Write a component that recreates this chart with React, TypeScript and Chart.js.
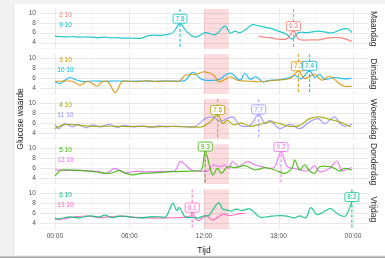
import React, { useEffect, useRef } from 'react';
import { Chart, registerables } from 'chart.js';

Chart.register(...registerables);

const FONT = '"Liberation Sans", Arial, Helvetica, sans-serif';
const W = 385;
const H = 258;

const dayNames = ['Maandag', 'Dinsdag', 'Woensdag', 'Donderdag', 'Vrijdag'];
const yTickValues = [4, 6, 8, 10];
const yMinorValues = [3, 5, 7, 9];
const xTickHours = [0, 6, 12, 18, 24];
const xTickLabels = ['00:00', '06:00', '12:00', '18:00', '00:00'];
const xMinorHours = [3, 9, 15, 21];
const shadeHours = [12, 14];
const xRange = [-1.2, 25.2];
const vRange = [2.8, 10.75];
const panelStride = 9.054;

// Maandag
const mon_0210_t = [16.4, 16.9, 17.3, 17.7, 18.1, 18.7, 19.2, 19.6, 20.1, 20.7, 21.3, 21.8, 22.3, 22.9, 23.3, 23.9];
const mon_0210_v = [5.3, 5.05, 5.0, 4.8, 4.65, 4.8, 6.3, 4.7, 4.5, 4.55, 4.55, 4.85, 5.0, 5.0, 4.8, 4.25];
const mon_0910_t = [0, 0.5, 1, 1.5, 2, 2.5, 3, 3.5, 4, 4.5, 5, 5.5, 6, 6.5, 7, 7.5, 8, 8.5, 9, 9.5, 10.07, 10.6, 11.3, 12.1, 12.9, 13.7, 14.1, 14.5, 14.9, 15.5, 15.9, 16.5, 17.3, 18.1, 18.7, 19.1, 19.6, 20.3, 21.2, 21.7, 22.3, 22.9, 23.5, 23.9];
const mon_0910_v = [5.3, 5.2, 5.15, 5.2, 5.1, 5.15, 5.1, 5.0, 5.1, 4.95, 5.0, 4.9, 4.9, 4.85, 4.9, 5.4, 5.5, 5.45, 5.6, 6.0, 7.8, 6.2, 5.1, 6.0, 5.6, 7.3, 5.9, 6.3, 6.0, 6.9, 7.6, 7.3, 6.9, 6.2, 5.6, 4.7, 6.0, 6.0, 6.3, 6.15, 5.95, 6.5, 6.8, 6.05];

// Dinsdag
const tue_0310_t = [0, 0.5, 1, 1.5, 2.0, 2.65, 3.4, 3.8, 4.3, 4.85, 5.4, 6, 6.5, 7, 7.5, 8, 8.5, 9, 9.5, 10, 10.5, 11.3, 12.1, 12.9, 13.1, 13.7, 14.1, 14.7, 15.7, 16.5, 17.7, 18.9, 19.6, 20.1, 20.9, 21.5, 22.1, 22.9, 23.3, 23.9];
const tue_0310_v = [5.3, 5.3, 5.35, 5.25, 4.5, 5.3, 4.3, 5.2, 5.1, 3.0, 5.2, 5.3, 5.2, 5.3, 5.4, 5.25, 5.3, 5.35, 5.3, 5.3, 6.5, 6.7, 7.2, 6.3, 5.2, 5.65, 6.2, 5.5, 5.3, 5.2, 5.5, 5.85, 7.3, 5.85, 6.7, 5.5, 6.3, 4.85, 4.3, 4.3];
const tue_1010_t = [0, 0.4, 0.8, 1.2, 1.8, 2.3, 3, 4, 5, 6, 7, 8, 9, 10, 10.5, 11.1, 11.7, 12.1, 12.9, 13.3, 13.7, 14.2, 14.9, 15.3, 15.7, 16.2, 16.7, 17.3, 18.1, 18.9, 19.3, 19.8, 20.5, 20.9, 21.3, 21.7, 22.5, 23.2, 23.9];
const tue_1010_v = [5.2, 4.85, 5.5, 6.05, 5.5, 5.25, 5.35, 5.3, 5.35, 5.3, 5.35, 5.3, 5.35, 5.35, 5.5, 7.1, 5.85, 5.5, 5.5, 5.7, 6.5, 6.9, 5.5, 6.9, 5.7, 6.2, 5.2, 5.5, 5.6, 6.05, 6.5, 5.8, 7.4, 6.05, 6.7, 5.7, 6.05, 5.8, 5.85];

// Woensdag
const wed_0410_t = [0, 0.5, 1.2, 2, 3, 4, 5, 6, 7, 8, 9, 10, 11, 11.8, 12.5, 13.1, 13.5, 13.9, 14.4, 15, 15.7, 16.5, 17.3, 18.1, 18.9, 19.7, 20.5, 21.3, 22.1, 22.9, 23.8];
const wed_0410_v = [4.85, 5.5, 5.7, 5.5, 5.3, 5.35, 5.3, 5.25, 5.3, 5.2, 5.3, 5.25, 5.2, 5.2, 6.2, 7.6, 5.9, 6.5, 5.6, 6.0, 5.3, 5.7, 6.2, 5.85, 5.3, 5.5, 6.85, 7.2, 6.7, 6.2, 5.2];
const wed_1110_t = [0, 0.3, 0.8, 1.4, 1.9, 2.5, 3.0, 3.6, 4.4, 5, 5.6, 6.3, 7, 7.7, 8.4, 9, 9.8, 10.5, 11.3, 12.1, 12.7, 13.3, 14.3, 14.9, 15.7, 16.4, 16.9, 17.3, 18.1, 18.9, 19.7, 20.5, 21.2, 21.7, 22.5, 22.9, 23.3, 23.9];
const wed_1110_v = [5.7, 4.85, 5.85, 5.2, 5.7, 5.0, 5.6, 5.2, 5.7, 5.1, 5.5, 5.2, 5.4, 5.1, 5.4, 5.2, 5.35, 5.2, 5.3, 6.85, 7.2, 6.3, 7.2, 5.5, 5.5, 7.7, 5.85, 6.5, 4.85, 5.7, 4.85, 6.2, 6.85, 5.85, 7.2, 6.0, 5.3, 5.7];

// Donderdag
const thu_0510_t = [0, 0.4, 0.8, 2, 3, 3.6, 4.4, 5.2, 5.6, 6.3, 6.9, 8, 9.3, 10.3, 11.3, 11.8, 12.1, 12.5, 12.7, 13.1, 13.4, 13.9, 14.5, 15.3, 16.1, 16.9, 17.7, 18.5, 19.1, 19.3, 19.7, 20.1, 20.5, 20.9, 21.3, 22.1, 22.6, 22.9, 23.3, 23.9];
const thu_0510_v = [4.4, 5.45, 5.6, 5.5, 5.3, 5.1, 4.9, 5.5, 5.0, 4.6, 4.9, 5.0, 5.25, 5.3, 5.4, 5.6, 9.3, 5.9, 4.6, 5.9, 4.9, 6.25, 6.05, 6.45, 5.6, 6.05, 5.6, 4.9, 6.05, 7.6, 5.6, 6.6, 5.4, 4.9, 6.25, 6.25, 5.8, 5.4, 5.9, 5.6];
const thu_1210_t = [0, 1, 2, 2.8, 3.5, 4, 4.4, 4.8, 5.6, 6.5, 7.5, 8.5, 9.3, 9.7, 10.1, 10.5, 11, 12.1, 12.4, 12.7, 13.3, 13.7, 14, 14.3, 14.8, 15.5, 16.1, 16.7, 17.3, 17.7, 18.2, 18.7, 19.3, 20.1, 20.5, 20.9, 21.3, 22.1, 22.7, 23.1, 23.5, 23.9];
const thu_1210_v = [5.6, 5.5, 5.5, 5.4, 5.3, 4.9, 5.3, 5.9, 5.1, 5.3, 5.25, 5.3, 5.3, 5.5, 7.3, 6.6, 5.6, 5.3, 5.6, 6.6, 6.25, 6.6, 5.9, 7.3, 6.25, 7.3, 6.6, 6.25, 5.9, 6.25, 9.2, 6.25, 5.9, 5.4, 5.6, 6.45, 5.25, 5.9, 7.4, 5.4, 5.8, 6.05];

// Vrijdag
const fri_0610_t = [0, 0.4, 1.2, 2, 2.8, 3.6, 4, 4.6, 5.2, 6, 6.9, 7.6, 8.5, 8.9, 9.2, 9.5, 9.8, 10.0, 10.5, 11.1, 11.5, 12.0, 12.4, 12.8, 13.2, 13.5, 13.9, 14.2, 14.6, 15.0, 15.7, 16.5, 17.2, 17.7, 18.5, 19.3, 19.7, 20.2, 20.6, 21.1, 21.9, 22.2, 22.9, 23.4, 23.9];
const fri_0610_v = [4.8, 4.9, 5.25, 5.05, 5.45, 5.25, 5.6, 5.1, 5.4, 5.25, 5.05, 5.25, 5.25, 5.2, 6.5, 8.0, 6.5, 7.1, 5.2, 5.15, 5.0, 5.45, 5.5, 7.0, 8.1, 6.8, 6.6, 6.4, 6.8, 6.5, 6.8, 5.2, 5.3, 5.45, 5.45, 5.05, 5.45, 5.05, 7.1, 5.7, 6.6, 6.9, 5.6, 5.45, 8.2];
const fri_1310_t = [0, 0.3, 0.8, 1.6, 2.8, 3.6, 4.4, 5.2, 6, 7, 8, 9, 10, 10.5, 10.9, 11.05, 11.5, 12.2, 12.7, 13.5, 14.1, 14.9, 15.3];
const fri_1310_v = [5.05, 4.7, 4.9, 5.25, 5.4, 5.1, 5.25, 5.4, 5.25, 5.1, 5.0, 5.05, 5.1, 5.2, 5.4, 6.1, 4.5, 5.5, 4.6, 5.75, 5.5, 5.9, 5.95];

type Series = { day: number; row: number; name: string; color: string; t: number[]; v: number[] };

const seriesList: Series[] = [
  { day: 0, row: 0, name: '2 10', color: '#F8766D', t: mon_0210_t, v: mon_0210_v },
  { day: 0, row: 1, name: '9 10', color: '#00BFC4', t: mon_0910_t, v: mon_0910_v },
  { day: 1, row: 0, name: '3 10', color: '#D89000', t: tue_0310_t, v: tue_0310_v },
  { day: 1, row: 1, name: '10 10', color: '#00B0F6', t: tue_1010_t, v: tue_1010_v },
  { day: 2, row: 0, name: '4 10', color: '#A3A500', t: wed_0410_t, v: wed_0410_v },
  { day: 2, row: 1, name: '11 10', color: '#9590FF', t: wed_1110_t, v: wed_1110_v },
  { day: 3, row: 0, name: '5 10', color: '#39B600', t: thu_0510_t, v: thu_0510_v },
  { day: 3, row: 1, name: '12 10', color: '#E76BF3', t: thu_1210_t, v: thu_1210_v },
  { day: 4, row: 0, name: '6 10', color: '#00BF7D', t: fri_0610_t, v: fri_0610_v },
  { day: 4, row: 1, name: '13 10', color: '#FF62BC', t: fri_1310_t, v: fri_1310_v },
];

const nameLabelHour = 0.85;
const nameLabelValues = [9.5, 7.5];

const toY = (day: number, v: number) => (dayNames.length - 1 - day) * panelStride + (v - vRange[0]);
const totalY = toY(0, vRange[1]);

const yTickPositions = dayNames
  .flatMap((_, d) => yTickValues.map((v) => ({ pos: toY(d, v), label: String(v) })))
  .sort((a, b) => a.pos - b.pos);

function rgba(hex: string, a: number) {
  const n = parseInt(hex.slice(1), 16);
  return `rgba(${(n >> 16) & 255},${(n >> 8) & 255},${n & 255},${a})`;
}

function roundRect(ctx: CanvasRenderingContext2D, x: number, y: number, w: number, h: number, r: number) {
  ctx.beginPath();
  ctx.moveTo(x + r, y);
  ctx.lineTo(x + w - r, y);
  ctx.quadraticCurveTo(x + w, y, x + w, y + r);
  ctx.lineTo(x + w, y + h - r);
  ctx.quadraticCurveTo(x + w, y + h, x + w - r, y + h);
  ctx.lineTo(x + r, y + h);
  ctx.quadraticCurveTo(x, y + h, x, y + h - r);
  ctx.lineTo(x, y + r);
  ctx.quadraticCurveTo(x, y, x + r, y);
  ctx.closePath();
}

const facetPlugin = {
  id: 'facets',
  beforeDraw(chart: any) {
    const ctx: CanvasRenderingContext2D = chart.ctx;
    ctx.save();
    ctx.fillStyle = '#f1f1f1';
    ctx.fillRect(0, 0, W, H);
    ctx.fillStyle = '#e6e6e6';
    ctx.fillRect(13, 4, 1, 252);
    ctx.fillStyle = '#ffffff';
    ctx.fillRect(14, 4, W - 14, 251);
    ctx.fillStyle = '#9c9c9c';
    ctx.fillRect(0, 256.5, W, 1.5);
    ctx.restore();
  },
  beforeDatasetsDraw(chart: any) {
    const ctx: CanvasRenderingContext2D = chart.ctx;
    const { x, y } = chart.scales;
    const a = chart.chartArea;
    ctx.save();
    dayNames.forEach((_, d) => {
      const top = y.getPixelForValue(toY(d, vRange[1]));
      const bot = y.getPixelForValue(toY(d, vRange[0]));
      const hline = (v: number) => {
        const p = Math.round(y.getPixelForValue(toY(d, v))) + 0.5;
        ctx.beginPath();
        ctx.moveTo(a.left, p);
        ctx.lineTo(a.right, p);
        ctx.stroke();
      };
      const vline = (h: number) => {
        const p = Math.round(x.getPixelForValue(h)) + 0.5;
        ctx.beginPath();
        ctx.moveTo(p, top);
        ctx.lineTo(p, bot);
        ctx.stroke();
      };
      ctx.lineWidth = 0.6;
      ctx.strokeStyle = '#f0f0f0';
      yMinorValues.forEach(hline);
      xMinorHours.forEach(vline);
      ctx.lineWidth = 1;
      ctx.strokeStyle = '#e8e8e8';
      yTickValues.forEach(hline);
      xTickHours.forEach(vline);
      const xs = x.getPixelForValue(shadeHours[0]);
      const xe = x.getPixelForValue(shadeHours[1]);
      ctx.fillStyle = 'rgba(240,80,90,0.2)';
      ctx.fillRect(xs, top, xe - xs, bot - top);
    });
    ctx.restore();
  },
  afterDatasetsDraw(chart: any) {
    const ctx: CanvasRenderingContext2D = chart.ctx;
    const { x, y } = chart.scales;
    ctx.save();
    // dashed peak lines
    seriesList.forEach((s) => {
      let mi = 0;
      s.v.forEach((v, i) => { if (v > s.v[mi]) mi = i; });
      const px = x.getPixelForValue(s.t[mi]);
      const top = y.getPixelForValue(toY(s.day, vRange[1]));
      const bot = y.getPixelForValue(toY(s.day, vRange[0]));
      ctx.setLineDash([3, 2]);
      ctx.lineWidth = 1.1;
      ctx.strokeStyle = rgba(s.color, 0.85);
      ctx.beginPath();
      ctx.moveTo(px, top);
      ctx.lineTo(px, bot);
      ctx.stroke();
    });
    ctx.setLineDash([]);
    // peak boxes
    ctx.font = `6.5px ${FONT}`;
    ctx.textAlign = 'center';
    ctx.textBaseline = 'middle';
    seriesList.forEach((s) => {
      let mi = 0;
      s.v.forEach((v, i) => { if (v > s.v[mi]) mi = i; });
      const txt = s.v[mi].toFixed(1);
      const px = x.getPixelForValue(s.t[mi]);
      const py = y.getPixelForValue(toY(s.day, s.v[mi] + 1.0));
      const tw = ctx.measureText(txt).width;
      const bw = tw + 5;
      const bh = 9;
      roundRect(ctx, px - bw / 2, py - bh / 2, bw, bh, 1.6);
      ctx.fillStyle = '#ffffff';
      ctx.fill();
      ctx.lineWidth = 0.8;
      ctx.strokeStyle = s.color;
      ctx.stroke();
      ctx.fillStyle = s.color;
      ctx.fillText(txt, px, py + 0.3);
    });
    // date labels
    ctx.font = `6.5px ${FONT}`;
    seriesList.forEach((s) => {
      ctx.fillStyle = s.color;
      ctx.fillText(s.name, x.getPixelForValue(nameLabelHour), y.getPixelForValue(toY(s.day, nameLabelValues[s.row])));
    });
    // strip labels
    ctx.font = `8.5px ${FONT}`;
    ctx.fillStyle = '#333333';
    dayNames.forEach((name, d) => {
      const cy = y.getPixelForValue(toY(d, (vRange[0] + vRange[1]) / 2));
      ctx.save();
      ctx.translate(373, cy);
      ctx.rotate(Math.PI / 2);
      ctx.textAlign = 'center';
      ctx.textBaseline = 'middle';
      ctx.fillText(name, 0, 0);
      ctx.restore();
    });
    ctx.restore();
  },
};

export default function App() {
  const ref = useRef<HTMLCanvasElement | null>(null);
  useEffect(() => {
    document.body.style.margin = '0';
    const canvas = ref.current;
    if (!canvas) return;
    const datasets = seriesList.map((s) => ({
      label: s.name,
      data: s.t.map((h, i) => ({ x: h, y: toY(s.day, s.v[i]) })),
      borderColor: rgba(s.color, 0.85),
      backgroundColor: rgba(s.color, 0.85),
      borderWidth: 1.2,
      pointRadius: 0,
      tension: 0.35,
      fill: false,
    }));
    const chart = new Chart(canvas, {
      type: 'line',
      data: { datasets },
      plugins: [facetPlugin],
      options: {
        animation: false,
        responsive: false,
        maintainAspectRatio: false,
        devicePixelRatio: 1,
        layout: { padding: { left: 14, top: 9, right: 17, bottom: 2 } },
        plugins: { legend: { display: false }, tooltip: { enabled: false } },
        scales: {
          x: {
            type: 'linear',
            min: xRange[0],
            max: xRange[1],
            grid: { display: false, drawTicks: false },
            border: { display: false },
            afterBuildTicks: (s: any) => { s.ticks = xTickHours.map((v) => ({ value: v })); },
            afterFit: (s: any) => { s.height = 27; s.paddingLeft = 0; s.paddingRight = 0; },
            ticks: {
              autoSkip: false,
              maxRotation: 0,
              padding: 3,
              color: '#555555',
              font: { family: FONT, size: 6.6 },
              callback: (_v: any, i: number) => xTickLabels[i],
            },
            title: { display: true, text: 'Tijd', color: '#222222', font: { family: FONT, size: 8.5 }, padding: { top: 6.5, bottom: 0 } },
          },
          y: {
            type: 'linear',
            min: 0,
            max: totalY,
            grid: { display: false, drawTicks: false },
            border: { display: false },
            afterBuildTicks: (s: any) => { s.ticks = yTickPositions.map((p) => ({ value: p.pos })); },
            afterFit: (s: any) => { s.width = 26; s.paddingTop = 0; s.paddingBottom = 0; },
            ticks: {
              autoSkip: false,
              padding: 4,
              color: '#555555',
              font: { family: FONT, size: 6.6 },
              callback: (_v: any, i: number) => yTickPositions[i].label,
            },
            title: { display: true, text: 'Glucose waarde', color: '#222222', font: { family: FONT, size: 8.5 }, padding: { top: 2, bottom: 0 } },
          },
        },
      } as any,
    });
    return () => chart.destroy();
  }, []);
  return <canvas ref={ref} width={W} height={H} style={{ display: 'block' }} />;
}
